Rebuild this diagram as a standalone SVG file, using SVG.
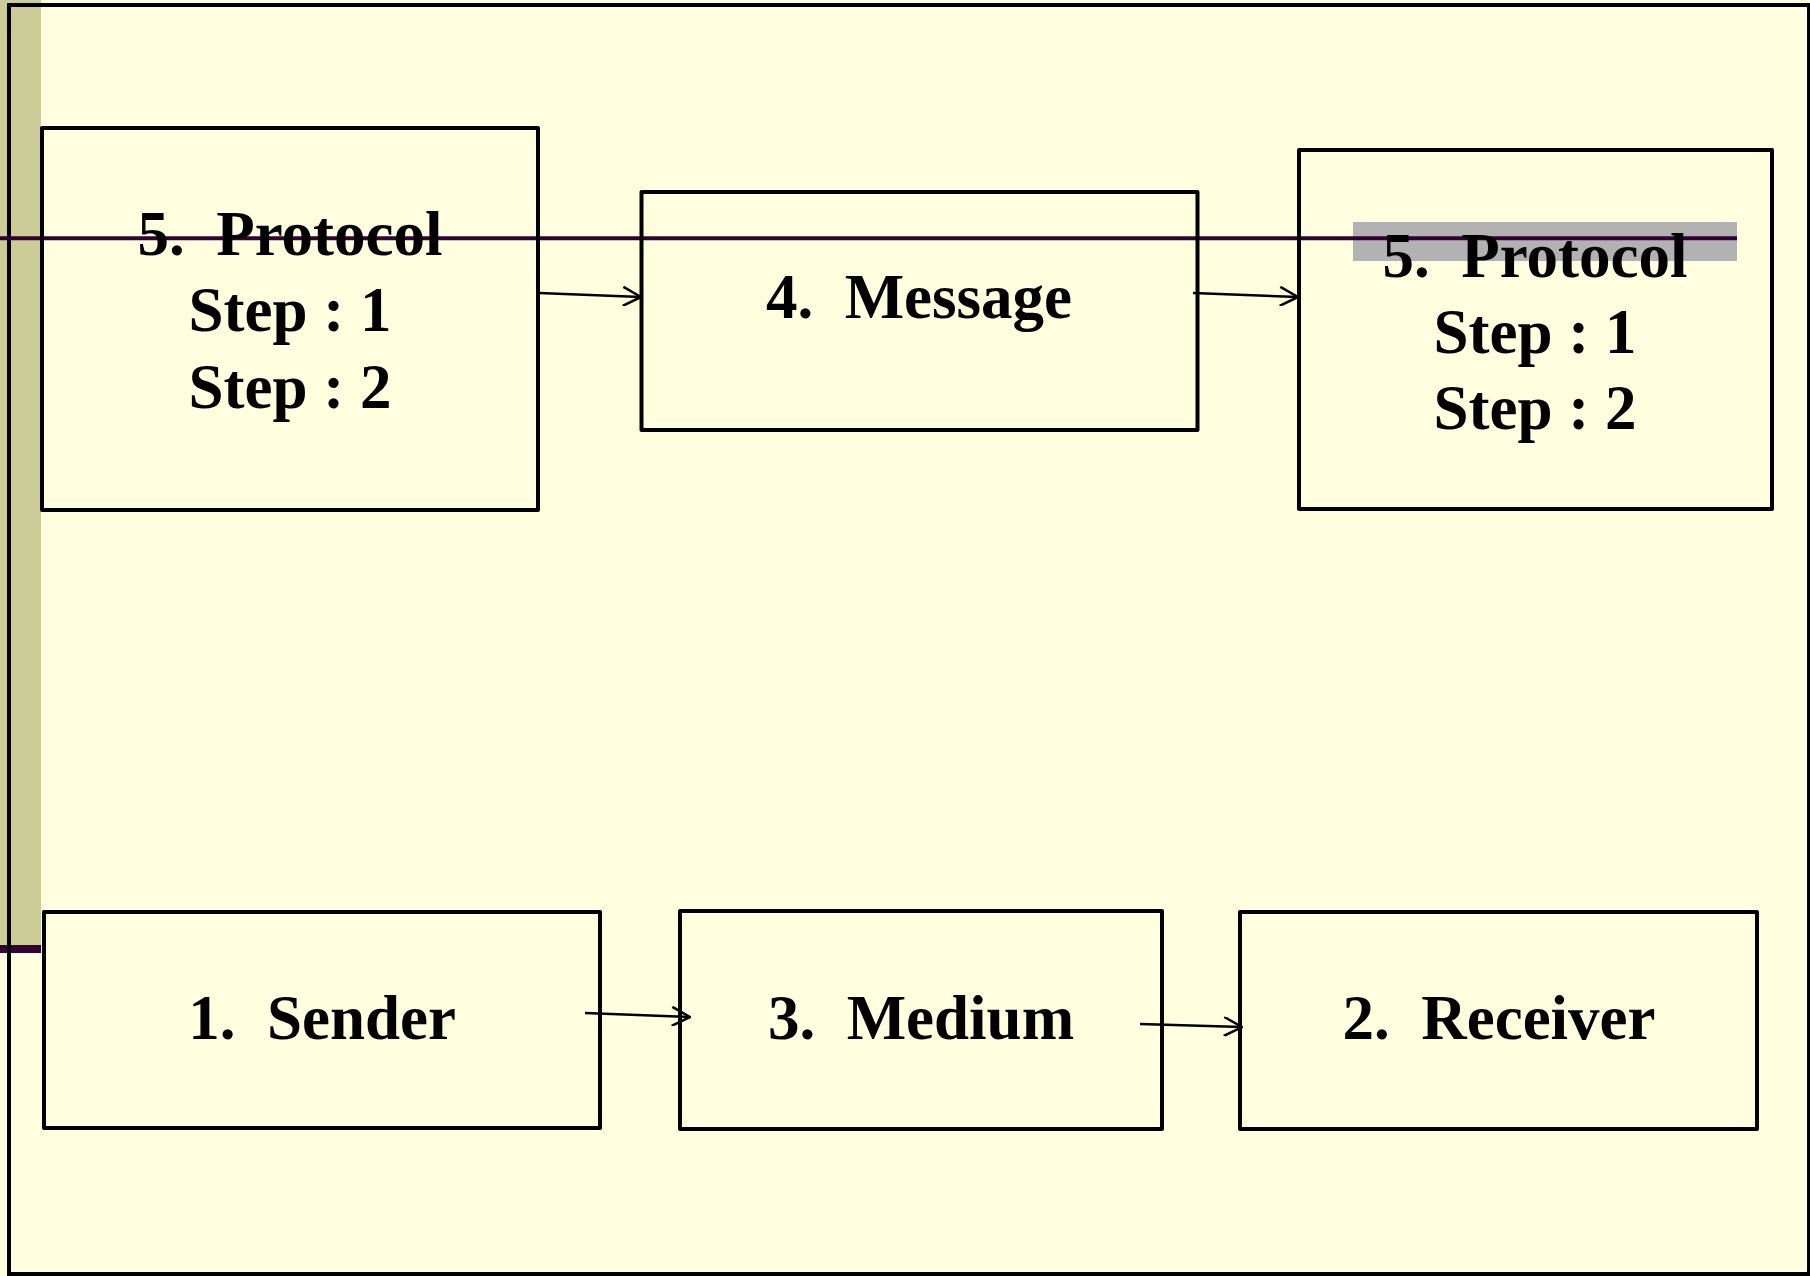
<svg xmlns="http://www.w3.org/2000/svg" width="1810" height="1276" viewBox="0 0 1810 1276" xml:space="preserve">
<style>
.box{fill:none;stroke:#000;stroke-width:4;stroke-linejoin:round}
.lbl{font-family:"Liberation Serif","Times New Roman",serif;font-weight:bold;font-size:63px;fill:#000;text-anchor:middle;white-space:pre}
.conn{stroke:#000;stroke-width:2.5;fill:none}
</style>
<defs>
<marker id="arr" viewBox="0 0 20 20" markerWidth="20" markerHeight="20" refX="19" refY="10" orient="auto" markerUnits="userSpaceOnUse">
<path d="M1,0.5 L19,10 L1,19.5" fill="none" stroke="#000" stroke-width="2.5"/>
</marker>
</defs>
<rect x="0" y="0" width="1810" height="1276" fill="#FFFFE0"/>
<rect x="0" y="0" width="41" height="945" fill="#CCCC99"/>
<rect x="0" y="945" width="41" height="8" fill="#330033"/>
<rect x="9" y="5" width="1800" height="1269" fill="none" stroke="#000" stroke-width="4"/>
<rect x="1353" y="222" width="384" height="39" fill="#B2B2B2"/>
<line x1="0" y1="238.3" x2="1737" y2="238.3" stroke="#330033" stroke-width="4"/>
<g id="connectors">
<line class="conn" x1="539" y1="293" x2="641" y2="297" marker-end="url(#arr)"/>
<line class="conn" x1="1193" y1="293" x2="1298" y2="297" marker-end="url(#arr)"/>
<line class="conn" x1="585" y1="1013" x2="690" y2="1017" marker-end="url(#arr)"/>
<line class="conn" x1="1140" y1="1024" x2="1242" y2="1027" marker-end="url(#arr)"/>
</g>
<g id="protocol-left">
<rect class="box" x="42" y="128" width="496" height="382"/>
<text class="lbl" x="290" y="255">5.  Protocol</text>
<text class="lbl" x="290" y="331">Step : 1</text>
<text class="lbl" x="290" y="408">Step : 2</text>
</g>
<g id="message">
<rect class="box" x="641.5" y="192" width="556" height="238"/>
<text class="lbl" x="919" y="318">4.  Message</text>
</g>
<g id="protocol-right">
<rect class="box" x="1299" y="150" width="473" height="359"/>
<text class="lbl" x="1535" y="277">5.  Protocol</text>
<text class="lbl" x="1535" y="353">Step : 1</text>
<text class="lbl" x="1535" y="429">Step : 2</text>
</g>
<g id="sender">
<rect class="box" x="44" y="912" width="556" height="216"/>
<text class="lbl" x="322" y="1039">1.  Sender</text>
</g>
<g id="medium">
<rect class="box" x="680" y="911" width="482" height="218"/>
<text class="lbl" x="921" y="1039">3.  Medium</text>
</g>
<g id="receiver">
<rect class="box" x="1240" y="912" width="517" height="217"/>
<text class="lbl" x="1499" y="1039">2.  Receiver</text>
</g>
</svg>
